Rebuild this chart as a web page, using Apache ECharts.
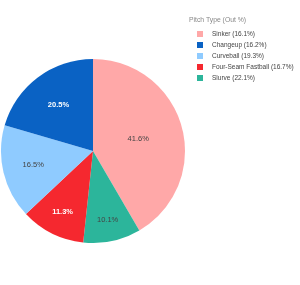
<!DOCTYPE html>
<html><head><meta charset="utf-8">
<script src="https://cdn.jsdelivr.net/npm/echarts@6/dist/echarts.min.js"></script>
<style>html,body{margin:0;padding:0;background:#fff}#c{width:300px;height:285px}</style>
</head><body><div id="c"></div>
<script>
const categories = ['Sinker', 'Changeup', 'Curveball', 'Four-Seam Fastball', 'Slurve'];
const outPct = [16.1, 16.2, 19.3, 16.7, 22.1];
const slicePct = [41.6, 20.5, 16.5, 11.3, 10.1];
const sliceOrder = ['Sinker', 'Slurve', 'Four-Seam Fastball', 'Curveball', 'Changeup'];
const colors = {'Sinker':'#ffa8a8','Changeup':'#0a62c4','Curveball':'#8fcbff','Four-Seam Fastball':'#f5282f','Slurve':'#2cb59b'};
const labelColors = {'Sinker':'#444','Changeup':'#fff','Curveball':'#444','Four-Seam Fastball':'#fff','Slurve':'#444'};

const data = sliceOrder.map(n => {
  const i = categories.indexOf(n);
  const white = labelColors[n] === '#fff';
  return {name: n, value: slicePct[i], itemStyle:{color: colors[n]},
          label:{color: labelColors[n], fontWeight: white ? 'bold' : 'normal'}};
});

const CX = 93, CY = 151, R = 92;
const total = data.reduce((s, d) => s + d.value, 0);
// Label placed at the centre of the circle inscribed in each slice (Plotly-style inside text)
function labelPos(idx) {
  let before = 0;
  for (let k = 0; k < idx; k++) before += data[k].value;
  const f = data[idx].value / total;
  const half = Math.PI * f;
  const mid = 2 * Math.PI * before / total + half;
  const rIns = Math.min(1 / (1 + 1 / Math.sin(half)), 0.5);
  const rc = (1 - rIns) * R;
  return {x: CX + rc * Math.sin(mid), y: CY - rc * Math.cos(mid)};
}

const chart = echarts.init(document.getElementById('c'));
chart.setOption({
  animation: false,
  title: {text: 'Pitch Type (Out %)', left: 189, top: 17, padding: [0,0,0,0], textStyle:{fontSize: 6.8, fontWeight: 'normal', color: '#888', fontFamily: 'Liberation Sans'}},
  legend: {
    orient: 'vertical', left: 197, top: 30, padding: 0, itemWidth: 6, itemHeight: 6, itemGap: 3,
    icon: 'rect',
    data: categories,
    formatter: n => n + ' (' + outPct[categories.indexOf(n)].toFixed(1) + '%)',
    textStyle: {fontSize: 6.5, lineHeight: 8, color: '#444', fontFamily: 'Liberation Sans', padding:[0,0,0,4]}
  },
  series: [{
    type: 'pie', center: [CX, CY], radius: [0, R], startAngle: 90, clockwise: true,
    data: data,
    label: {position: 'inside', formatter: p => p.value.toFixed(1) + '%', fontSize: 7.5, fontFamily: 'Liberation Sans'},
    labelLine: {show: false},
    labelLayout: p => labelPos(p.dataIndex),
    itemStyle: {borderWidth: 0}
  }]
});
</script></body></html>
